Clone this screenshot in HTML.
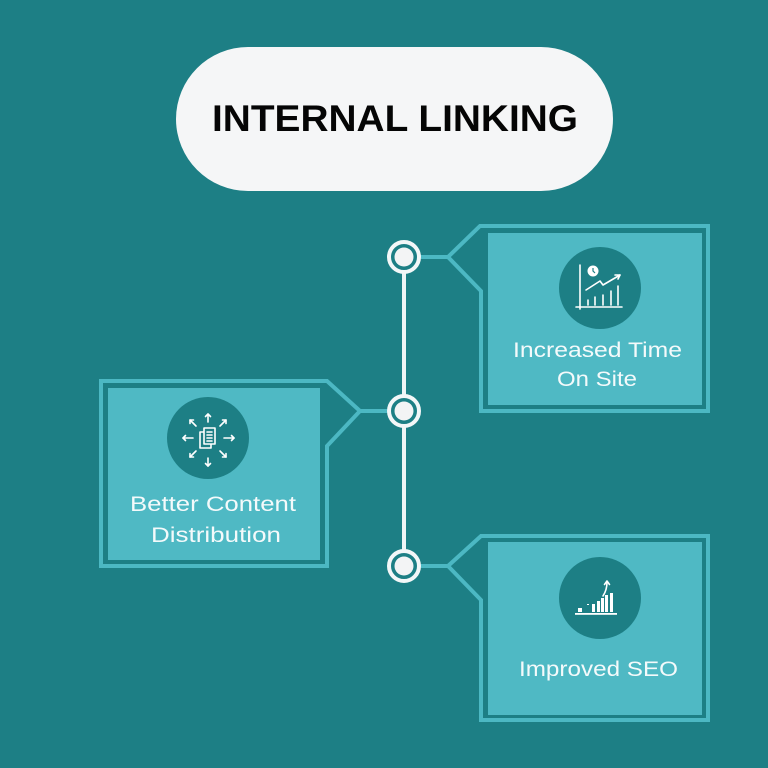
<!DOCTYPE html>
<html>
<head>
<meta charset="utf-8">
<style>
  html,body{margin:0;padding:0;background:#1d7f85;}
  svg{display:block;}
  text{font-family:"Liberation Sans", sans-serif;}
</style>
</head>
<body>
<svg width="768" height="768" viewBox="0 0 768 768" xmlns="http://www.w3.org/2000/svg">
  <rect x="0" y="0" width="768" height="768" fill="#1d7f85"/>

  <!-- Title pill -->
  <rect x="176" y="47" width="437" height="144" rx="72" ry="72" fill="#f5f6f7"/>
  <text x="212" y="131" font-size="37" font-weight="bold" fill="#050505" textLength="366" lengthAdjust="spacingAndGlyphs">INTERNAL LINKING</text>

  <!-- vertical line -->
  <line x1="404" y1="257" x2="404" y2="566" stroke="#eef5f6" stroke-width="4"/>

  <!-- connectors -->
  <g stroke="#4cb8c3" stroke-width="4" fill="none" stroke-linejoin="miter">
    <line x1="420" y1="257" x2="448" y2="257"/>
    <line x1="360" y1="411" x2="388" y2="411"/>
    <line x1="420" y1="566" x2="448" y2="566"/>
    <!-- top right outline -->
    <path d="M480,226 L708,226 L708,411 L481,411 L481,291 L448,257 L480,226 Z"/>
    <!-- left outline -->
    <path d="M101,381 L327,381 L360,411 L327,446 L327,566 L101,566 Z"/>
    <!-- bottom outline -->
    <path d="M481,536 L708,536 L708,720 L481,720 L481,600 L448,566 L481,536 Z"/>
  </g>

  <!-- box fills -->
  <rect x="488" y="233" width="214" height="172" fill="#4fb9c4"/>
  <rect x="108" y="388" width="212" height="172" fill="#4fb9c4"/>
  <rect x="488" y="542" width="214" height="173" fill="#4fb9c4"/>

  <!-- node circles -->
  <g>
    <circle cx="404" cy="257" r="15" fill="#1d7f85" stroke="#f3f7f8" stroke-width="4"/>
    <circle cx="404" cy="257" r="9.5" fill="#f3f4f5"/>
    <circle cx="404" cy="411" r="15" fill="#1d7f85" stroke="#f3f7f8" stroke-width="4"/>
    <circle cx="404" cy="411" r="9.5" fill="#f3f4f5"/>
    <circle cx="404" cy="566" r="15" fill="#1d7f85" stroke="#f3f7f8" stroke-width="4"/>
    <circle cx="404" cy="566" r="9.5" fill="#f3f4f5"/>
  </g>

  <!-- icon circles -->
  <circle cx="600" cy="288" r="41" fill="#1d7f85"/>
  <circle cx="208" cy="438" r="41" fill="#1d7f85"/>
  <circle cx="600" cy="598" r="41" fill="#1d7f85"/>

  <!-- Icon 1: chart with clock -->
  <g stroke="#ffffff" fill="none" stroke-width="1.6" stroke-linecap="round" stroke-linejoin="round">
    <line x1="580" y1="265" x2="580" y2="309"/>
    <line x1="576" y1="307" x2="622" y2="307"/>
    <line x1="588" y1="300" x2="588" y2="305"/>
    <line x1="595" y1="297" x2="595" y2="305"/>
    <line x1="603" y1="295" x2="603" y2="305"/>
    <line x1="611" y1="291" x2="611" y2="305"/>
    <line x1="618" y1="286" x2="618" y2="305"/>
    <polyline points="586,290 600,281 603,285 620,275"/>
    <polyline points="615,275 620,275 618,279"/>
  </g>
  <circle cx="593" cy="271" r="5.5" fill="#ffffff"/>
  <path d="M593,268 L593,271 L595,273" stroke="#1d7f85" stroke-width="1.2" fill="none"/>

  <!-- Icon 2: distribution -->
  <g stroke="#ffffff" fill="none" stroke-width="1.6" stroke-linecap="round" stroke-linejoin="round">
    <rect x="200" y="432" width="11" height="16" fill="#1d7f85"/>
    <rect x="204" y="428" width="11" height="16" fill="#1d7f85"/>
    <line x1="207" y1="432" x2="212" y2="432"/>
    <line x1="207" y1="435" x2="212" y2="435"/>
    <line x1="207" y1="438" x2="212" y2="438"/>
    <line x1="207" y1="441" x2="212" y2="441"/>
    <!-- arrows -->
    <line x1="208" y1="422" x2="208" y2="414"/><polyline points="205.5,416.5 208,414 210.5,416.5"/>
    <line x1="208" y1="458" x2="208" y2="466"/><polyline points="205.5,463.5 208,466 210.5,463.5"/>
    <line x1="193" y1="438" x2="183" y2="438"/><polyline points="185.5,435.5 183,438 185.5,440.5"/>
    <line x1="224" y1="438" x2="234" y2="438"/><polyline points="231.5,435.5 234,438 231.5,440.5"/>
    <line x1="196" y1="426" x2="190" y2="420"/><polyline points="190,423.5 190,420 193.5,420"/>
    <line x1="220" y1="426" x2="226" y2="420"/><polyline points="222.5,420 226,420 226,423.5"/>
    <line x1="196" y1="451" x2="190" y2="457"/><polyline points="190,453.5 190,457 193.5,457"/>
    <line x1="220" y1="451" x2="226" y2="457"/><polyline points="226,453.5 226,457 222.5,457"/>
  </g>

  <!-- Icon 3: SEO bars -->
  <g fill="#ffffff">
    <rect x="575" y="613" width="42" height="1.8"/>
    <rect x="578" y="608" width="4" height="4"/>
    <rect x="587" y="604" width="2" height="1"/>
    <rect x="592" y="604" width="3" height="8"/>
    <rect x="597" y="601" width="3" height="11"/>
    <rect x="601" y="598" width="3" height="14"/>
    <rect x="605" y="595" width="3" height="17"/>
    <rect x="610" y="593" width="3" height="19"/>
  </g>
  <g stroke="#ffffff" fill="none" stroke-width="1.6" stroke-linecap="round" stroke-linejoin="round">
    <path d="M603,596 Q607,590 607,582"/>
    <polyline points="604.5,584.5 607,581 609.5,584.5"/>
  </g>

  <!-- Labels -->
  <g fill="#f4fafb" font-size="21">
    <text x="513" y="357" textLength="169" lengthAdjust="spacingAndGlyphs">Increased Time</text>
    <text x="557" y="386" textLength="80" lengthAdjust="spacingAndGlyphs">On Site</text>
    <text x="130" y="511" textLength="166" lengthAdjust="spacingAndGlyphs">Better Content</text>
    <text x="151" y="542" textLength="130" lengthAdjust="spacingAndGlyphs">Distribution</text>
    <text x="519" y="676" textLength="159" lengthAdjust="spacingAndGlyphs">Improved SEO</text>
  </g>
</svg>
</body>
</html>
